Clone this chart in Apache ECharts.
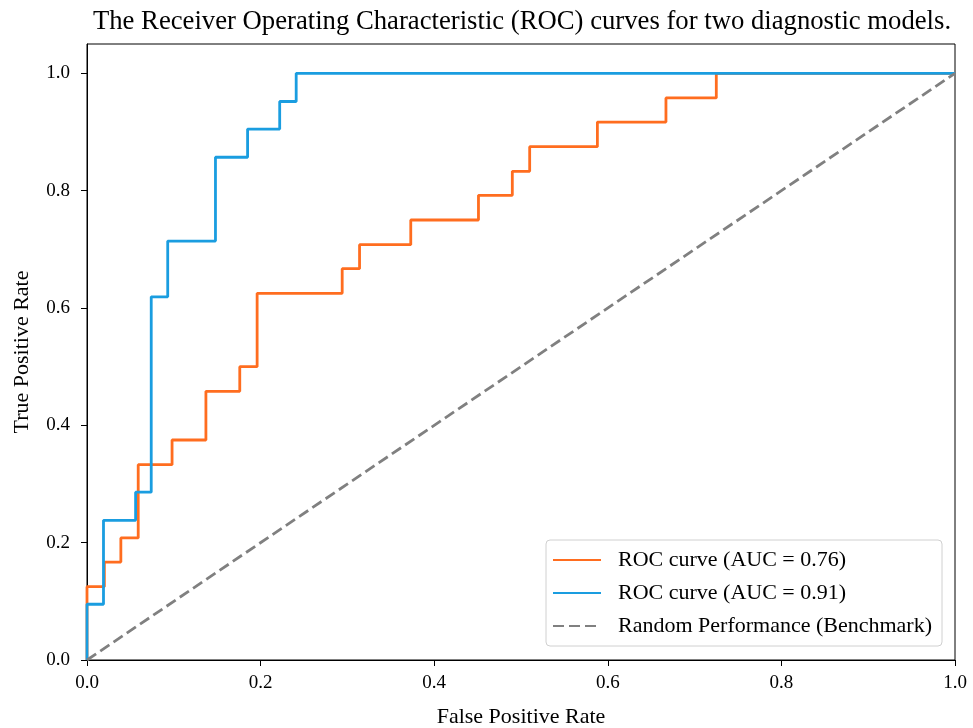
<!DOCTYPE html>
<html>
<head>
<meta charset="utf-8">
<script src="https://cdn.jsdelivr.net/npm/echarts@6/dist/echarts.min.js"></script>
<style>
html,body{margin:0;padding:0;background:#fff;}
#chart{width:973px;height:728px;}
</style>
</head>
<body>
<div id="chart"></div>
<script>
// ROC data for model A (AUC = 0.76)
const fprA = [0,0,0.020,0.020,0.039,0.039,0.059,0.059,0.098,0.098,0.137,0.137,0.176,0.176,0.196,0.196,0.294,0.294,0.314,0.314,0.373,0.373,0.451,0.451,0.490,0.490,0.510,0.510,0.588,0.588,0.667,0.667,0.725,0.725,1];
const tprA = [0,0.125,0.125,0.167,0.167,0.208,0.208,0.333,0.333,0.375,0.375,0.458,0.458,0.5,0.5,0.625,0.625,0.667,0.667,0.708,0.708,0.75,0.75,0.792,0.792,0.833,0.833,0.875,0.875,0.917,0.917,0.958,0.958,1,1];
// ROC data for model B (AUC = 0.91)
const fprB = [0,0,0.019,0.019,0.056,0.056,0.074,0.074,0.093,0.093,0.148,0.148,0.185,0.185,0.222,0.222,0.241,0.241,1];
const tprB = [0,0.095,0.095,0.238,0.238,0.286,0.286,0.619,0.619,0.714,0.714,0.857,0.857,0.905,0.905,0.952,0.952,1,1];
// benchmark diagonal
const fprRand = [0,1];
const tprRand = [0,1];

const seriesNames = ['ROC curve (AUC = 0.76)','ROC curve (AUC = 0.91)','Random Performance (Benchmark)'];
const tickLabels = ['0.0','0.2','0.4','0.6','0.8','1.0'];

const zip = (a,b) => a.map((v,i)=>[v,b[i]]);
const fmt = v => {
  const k = Math.round(v/0.2);
  return Math.abs(v - k*0.2) < 1e-6 ? tickLabels[k] : '';
};
const FONT = '"Liberation Serif", "DejaVu Serif", serif';

const chart = echarts.init(document.getElementById('chart'), null, {renderer:'canvas'});
chart.setOption({
  animation:false,
  backgroundColor:'#fff',
  title:{
    text:'The Receiver Operating Characteristic (ROC) curves for two diagnostic models.',
    left:517, top:3, textAlign:'center',
    textStyle:{fontFamily:FONT,fontSize:26.7,fontWeight:'normal',color:'#000'}
  },
  grid:{left:87,right:18,top:44,bottom:68,outerBoundsMode:'none',containLabel:false,
        show:true,borderColor:'#000',borderWidth:1,backgroundColor:'transparent'},
  xAxis:{
    type:'value',min:0,max:1,interval:0.2,
    name:'False Positive Rate',nameLocation:'middle',nameGap:46,
    nameTextStyle:{fontFamily:FONT,fontSize:22,color:'#000'},
    axisLine:{show:true,lineStyle:{color:'#000',width:1}},
    axisTick:{show:true,inside:false,length:6,lineStyle:{color:'#000'}},
    axisLabel:{fontFamily:FONT,fontSize:19,color:'#000',margin:14,formatter:fmt},
    splitLine:{show:false}
  },
  yAxis:{
    type:'value',min:0,max:1.05,interval:0.2,
    name:'True Positive Rate',nameLocation:'middle',nameGap:54,
    nameTextStyle:{fontFamily:FONT,fontSize:22,color:'#000'},
    axisLine:{show:true,lineStyle:{color:'#000',width:1}},
    axisTick:{show:true,inside:false,length:6,lineStyle:{color:'#000'}},
    axisLabel:{fontFamily:FONT,fontSize:19,color:'#000',margin:17,formatter:fmt,showMaxLabel:false},
    splitLine:{show:false}
  },
  legend:{
    orient:'vertical',right:31,bottom:82,
    data:seriesNames,
    backgroundColor:'#fff',borderColor:'#d0d0d0',borderWidth:1,borderRadius:4,
    padding:[9,10,9,6],itemWidth:48,itemHeight:14,itemGap:11,
    itemStyle:{color:'transparent',borderWidth:0,opacity:0},
    textStyle:{fontFamily:FONT,fontSize:22,color:'#000',padding:[0,0,0,12]}
  },
  series:[
    {name:seriesNames[0],type:'line',data:zip(fprA,tprA),symbol:'none',
     lineStyle:{color:'#ff6d1f',width:2.8},itemStyle:{color:'#ff6d1f'},z:2},
    {name:seriesNames[1],type:'line',data:zip(fprB,tprB),symbol:'none',
     lineStyle:{color:'#1a9de0',width:2.8},itemStyle:{color:'#1a9de0'},z:3},
    {name:seriesNames[2],type:'line',data:zip(fprRand,tprRand),symbol:'none',
     lineStyle:{color:'#808080',width:2.8,type:[11,5]},itemStyle:{color:'#808080'},z:4}
  ]
});
</script>
</body>
</html>
